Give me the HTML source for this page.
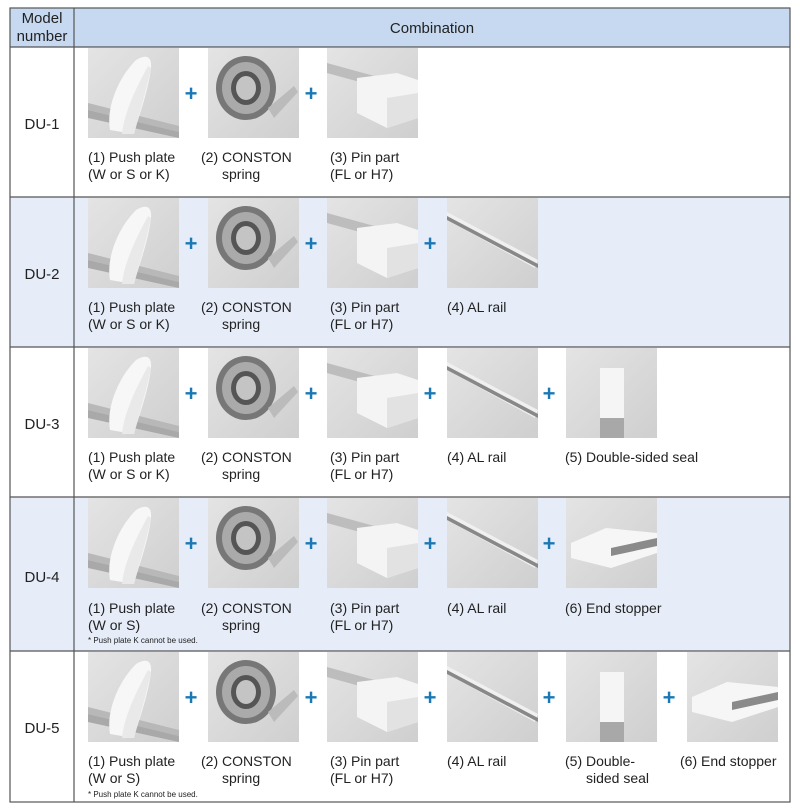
<!DOCTYPE html>
<html><head><meta charset="utf-8"><style>
html,body{margin:0;padding:0;background:#fff;width:800px;height:811px;overflow:hidden}
svg{display:block}
text{font-family:"Liberation Sans",Arial,sans-serif;fill:#222}
</style></head><body>
<svg width="800" height="811" viewBox="0 0 800 811" xmlns="http://www.w3.org/2000/svg">
<defs>
<linearGradient id="bg" x1="0" y1="0" x2="1" y2="1"><stop offset="0" stop-color="#e4e4e4"/><stop offset="1" stop-color="#cfcfcf"/></linearGradient>
<g id="push"><rect width="91" height="90" fill="url(#bg)"/>
<path d="M0 55 L91 78 L91 84 L0 62Z" fill="#b8b8b8"/><path d="M0 62 L91 84 L91 90 L0 70Z" fill="#a9a9a9"/>
<path d="M22 82 C18 60 30 30 48 12 C58 6 64 8 63 20 C60 45 50 70 46 86 Z" fill="#f7f7f7"/>
<path d="M34 86 C36 65 48 40 60 18 L63 20 C58 45 50 70 46 86Z" fill="#e9e9e9"/></g>
<g id="spring"><rect width="91" height="90" fill="url(#bg)"/>
<ellipse cx="38" cy="40" rx="30" ry="32" fill="#777"/><ellipse cx="38" cy="40" rx="24" ry="26" fill="#aaa"/>
<ellipse cx="38" cy="40" rx="15" ry="17" fill="#555"/><ellipse cx="38" cy="40" rx="10" ry="12" fill="#c4c4c4"/>
<path d="M60 60 L86 38 L90 44 L66 70Z" fill="#bbb"/></g>
<g id="pin"><rect width="91" height="90" fill="url(#bg)"/>
<path d="M0 15 L91 40 L91 50 L0 25Z" fill="#bdbdbd"/>
<path d="M30 30 L70 25 L91 32 L91 70 L60 80 L30 65Z" fill="#f4f4f4"/><path d="M60 50 L91 45 L91 70 L60 80Z" fill="#e2e2e2"/></g>
<g id="rail"><rect width="91" height="90" fill="url(#bg)"/>
<path d="M0 14 L91 62 L88 70 L0 22Z" fill="#f0f0f0"/><path d="M0 18 L91 66 L91 70 L0 22Z" fill="#888"/></g>
<g id="seal"><rect width="91" height="90" fill="url(#bg)"/>
<rect x="34" y="20" width="24" height="50" fill="#f5f5f5"/><rect x="34" y="70" width="24" height="20" fill="#a8a8a8"/></g>
<g id="stop"><rect width="91" height="90" fill="url(#bg)"/>
<path d="M5 45 L40 30 L91 35 L91 55 L45 70 L5 60Z" fill="#f6f6f6"/><path d="M45 50 L91 40 L91 48 L45 58Z" fill="#8a8a8a"/></g>
</defs>
<!-- backgrounds -->
<rect x="10" y="8" width="780" height="39" fill="#c6d9f0"/>
<rect x="10" y="197" width="780" height="150" fill="#e6edf8"/>
<rect x="10" y="497" width="780" height="154" fill="#e6edf8"/>
<!-- borders -->
<g stroke="#555" stroke-width="1.2" fill="none">
<rect x="10" y="8" width="780" height="794"/>
<line x1="74" y1="8" x2="74" y2="802"/>
<line x1="10" y1="47" x2="790" y2="47"/>
<line x1="10" y1="197" x2="790" y2="197"/>
<line x1="10" y1="347" x2="790" y2="347"/>
<line x1="10" y1="497" x2="790" y2="497"/>
<line x1="10" y1="651" x2="790" y2="651"/>
</g>
<g font-size="15" text-anchor="middle">
<text x="42" y="23">Model</text><text x="42" y="41">number</text>
<text x="432" y="33">Combination</text>
<text x="42" y="129">DU-1</text><text x="42" y="279">DU-2</text><text x="42" y="429">DU-3</text><text x="42" y="582">DU-4</text><text x="42" y="733">DU-5</text>
</g>
<!-- images -->
<g>
<use href="#push" x="88" y="48"/><use href="#spring" x="208" y="48"/><use href="#pin" x="327" y="48"/>
<use href="#push" x="88" y="198"/><use href="#spring" x="208" y="198"/><use href="#pin" x="327" y="198"/><use href="#rail" x="447" y="198"/>
<use href="#push" x="88" y="348"/><use href="#spring" x="208" y="348"/><use href="#pin" x="327" y="348"/><use href="#rail" x="447" y="348"/><use href="#seal" x="566" y="348"/>
<use href="#push" x="88" y="498"/><use href="#spring" x="208" y="498"/><use href="#pin" x="327" y="498"/><use href="#rail" x="447" y="498"/><use href="#stop" x="566" y="498"/>
<use href="#push" x="88" y="652"/><use href="#spring" x="208" y="652"/><use href="#pin" x="327" y="652"/><use href="#rail" x="447" y="652"/><use href="#seal" x="566" y="652"/><use href="#stop" x="687" y="652"/>
</g>
<!-- plus signs -->
<g font-size="22" font-weight="bold" text-anchor="middle" style="fill:#1b78b4">
<text x="191" y="101" style="fill:#1b78b4">+</text><text x="311" y="101" style="fill:#1b78b4">+</text>
<text x="191" y="251" style="fill:#1b78b4">+</text><text x="311" y="251" style="fill:#1b78b4">+</text><text x="430" y="251" style="fill:#1b78b4">+</text>
<text x="191" y="401" style="fill:#1b78b4">+</text><text x="311" y="401" style="fill:#1b78b4">+</text><text x="430" y="401" style="fill:#1b78b4">+</text><text x="549" y="401" style="fill:#1b78b4">+</text>
<text x="191" y="551" style="fill:#1b78b4">+</text><text x="311" y="551" style="fill:#1b78b4">+</text><text x="430" y="551" style="fill:#1b78b4">+</text><text x="549" y="551" style="fill:#1b78b4">+</text>
<text x="191" y="705" style="fill:#1b78b4">+</text><text x="311" y="705" style="fill:#1b78b4">+</text><text x="430" y="705" style="fill:#1b78b4">+</text><text x="549" y="705" style="fill:#1b78b4">+</text><text x="669" y="705" style="fill:#1b78b4">+</text>
</g>
<!-- labels -->
<g font-size="14">
<text x="88" y="162">(1) Push plate</text><text x="88" y="179">(W or S or K)</text>
<text x="201" y="162">(2) CONSTON</text><text x="222" y="179">spring</text>
<text x="330" y="162">(3) Pin part</text><text x="330" y="179">(FL or H7)</text>

<text x="88" y="312">(1) Push plate</text><text x="88" y="329">(W or S or K)</text>
<text x="201" y="312">(2) CONSTON</text><text x="222" y="329">spring</text>
<text x="330" y="312">(3) Pin part</text><text x="330" y="329">(FL or H7)</text>
<text x="447" y="312">(4) AL rail</text>

<text x="88" y="462">(1) Push plate</text><text x="88" y="479">(W or S or K)</text>
<text x="201" y="462">(2) CONSTON</text><text x="222" y="479">spring</text>
<text x="330" y="462">(3) Pin part</text><text x="330" y="479">(FL or H7)</text>
<text x="447" y="462">(4) AL rail</text>
<text x="565" y="462">(5) Double-sided seal</text>

<text x="88" y="613">(1) Push plate</text><text x="88" y="630">(W or S)</text>
<text x="201" y="613">(2) CONSTON</text><text x="222" y="630">spring</text>
<text x="330" y="613">(3) Pin part</text><text x="330" y="630">(FL or H7)</text>
<text x="447" y="613">(4) AL rail</text>
<text x="565" y="613">(6) End stopper</text>

<text x="88" y="766">(1) Push plate</text><text x="88" y="783">(W or S)</text>
<text x="201" y="766">(2) CONSTON</text><text x="222" y="783">spring</text>
<text x="330" y="766">(3) Pin part</text><text x="330" y="783">(FL or H7)</text>
<text x="447" y="766">(4) AL rail</text>
<text x="565" y="766">(5) Double-</text><text x="586" y="783">sided seal</text>
<text x="680" y="766">(6) End stopper</text>
</g>
<g font-size="8">
<text x="88" y="643">* Push plate K cannot be used.</text>
<text x="88" y="797">* Push plate K cannot be used.</text>
</g>
</svg>
</body></html>
